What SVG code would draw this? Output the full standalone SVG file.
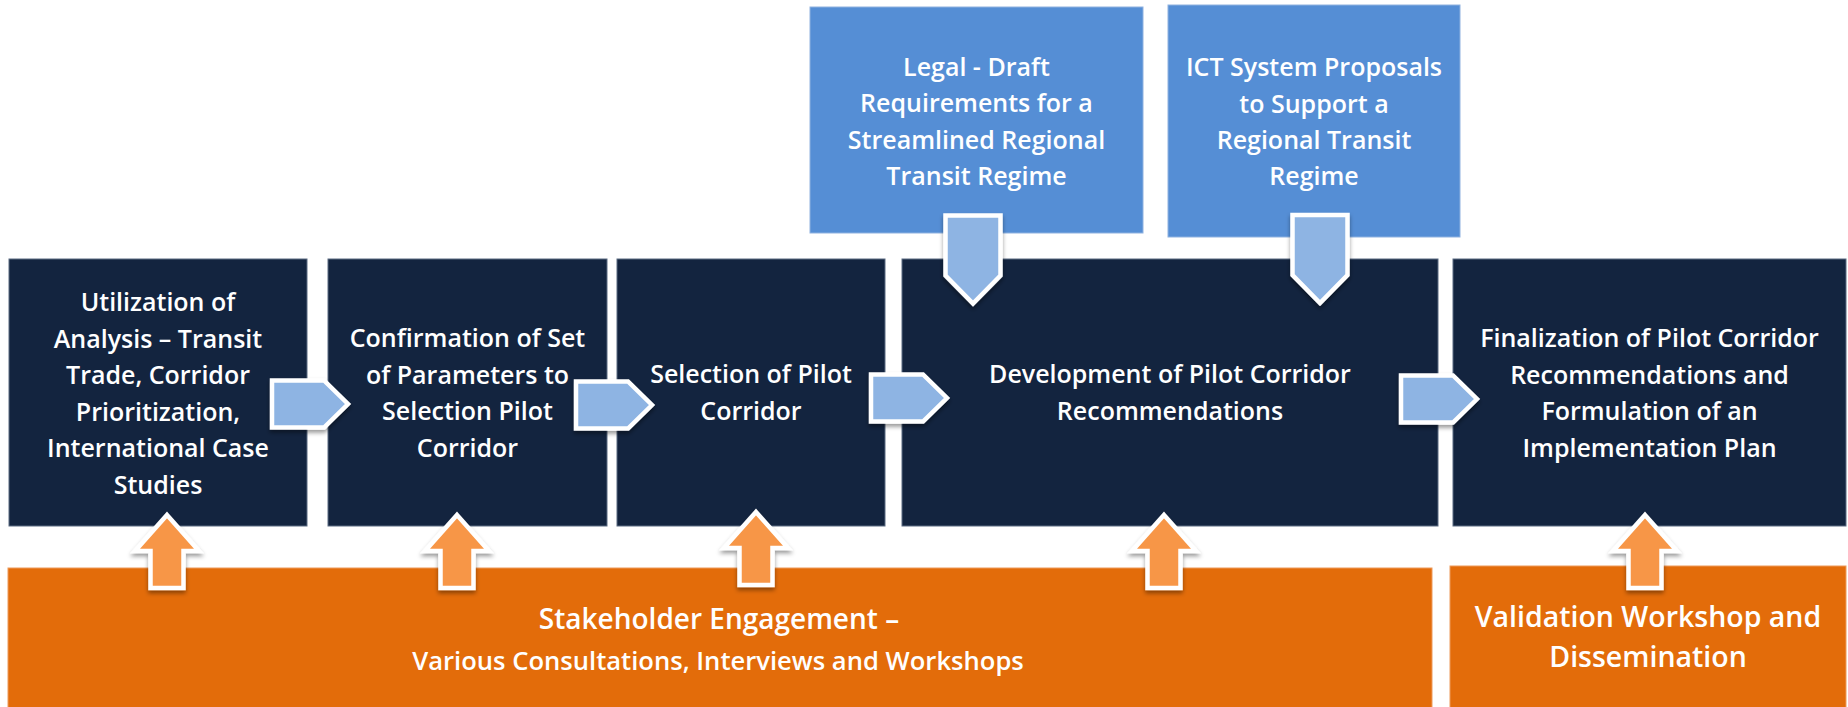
<svg xmlns="http://www.w3.org/2000/svg" width="1848" height="707" viewBox="0 0 1848 707">
<defs>
<style>
.navy{fill:#13243F;stroke:#5B6B82;stroke-width:1}
.blue{fill:#558ED5;stroke:#8FB2E0;stroke-width:1}
.orange{fill:#E36C0A;stroke:#EE9A5A;stroke-width:1}
.t{font-family:"Open Sans","Noto Sans","Liberation Sans",sans-serif;font-weight:600;font-size:25px;fill:#FFFFFF;text-anchor:middle}
.tb{font-family:"Open Sans","Noto Sans","Liberation Sans",sans-serif;font-weight:600;fill:#FFFFFF;text-anchor:middle}
.ba{fill:#8EB4E3;stroke:#FFFFFF;stroke-width:4.5;stroke-linejoin:miter;filter:url(#sh)}
.oa{fill:#F79646;stroke:#FFFFFF;stroke-width:4.5;stroke-linejoin:miter;filter:url(#sh)}
</style>
<filter id="sh" x="-30%" y="-30%" width="160%" height="160%">
<feDropShadow dx="0" dy="3" stdDeviation="2" flood-color="#000000" flood-opacity="0.4"/>
</filter>
<polygon id="ra" points="0,-23.5 52,-23.5 76,0 52,23.5 0,23.5"/>
<polygon id="da" points="-27.5,0 27.5,0 27.5,60 0,88 -27.5,60"/>
<polygon id="ua" points="0,0 32,36 16.5,36 16.5,73 -16.5,73 -16.5,36 -32,36"/>
</defs>
<rect width="1848" height="707" fill="#FFFFFF"/>

<g id="legal">
<rect class="blue" x="810" y="7" width="333" height="226"/>
<text class="t" x="976.5" y="76">Legal - Draft</text>
<text class="t" x="976.5" y="112">Requirements for a</text>
<text class="t" x="976.5" y="149">Streamlined Regional</text>
<text class="t" x="976.5" y="185">Transit Regime</text>
</g>
<g id="ict">
<rect class="blue" x="1168" y="5" width="292" height="232"/>
<text class="t" x="1314" y="76">ICT System Proposals</text>
<text class="t" x="1314" y="113">to Support a</text>
<text class="t" x="1314" y="149">Regional Transit</text>
<text class="t" x="1314" y="185">Regime</text>
</g>

<g id="utilization">
<rect class="navy" x="9" y="259" width="298" height="267"/>
<text class="t" x="158" y="311">Utilization of</text>
<text class="t" x="158" y="348">Analysis – Transit</text>
<text class="t" x="158" y="384">Trade, Corridor</text>
<text class="t" x="158" y="421">Prioritization,</text>
<text class="t" x="158" y="457">International Case</text>
<text class="t" x="158" y="494">Studies</text>
</g>
<g id="confirmation">
<rect class="navy" x="328" y="259" width="279" height="267"/>
<text class="t" x="467.5" y="347">Confirmation of Set</text>
<text class="t" x="467.5" y="384">of Parameters to</text>
<text class="t" x="467.5" y="420">Selection Pilot</text>
<text class="t" x="467.5" y="457">Corridor</text>
</g>
<g id="selection">
<rect class="navy" x="617" y="259" width="268" height="267"/>
<text class="t" x="751" y="383">Selection of Pilot</text>
<text class="t" x="751" y="420">Corridor</text>
</g>
<g id="development">
<rect class="navy" x="902" y="259" width="536" height="267"/>
<text class="t" x="1170" y="383">Development of Pilot Corridor</text>
<text class="t" x="1170" y="420">Recommendations</text>
</g>
<g id="finalization">
<rect class="navy" x="1453" y="259" width="393" height="267"/>
<text class="t" x="1649.5" y="347">Finalization of Pilot Corridor</text>
<text class="t" x="1649.5" y="384">Recommendations and</text>
<text class="t" x="1649.5" y="420">Formulation of an</text>
<text class="t" x="1649.5" y="457">Implementation Plan</text>
</g>

<g id="stakeholder">
<rect class="orange" x="8" y="568" width="1424" height="145"/>
<text class="tb" x="719" y="629" font-size="28">Stakeholder Engagement –</text>
<text class="tb" x="718" y="670" font-size="25.6">Various Consultations, Interviews and Workshops</text>
</g>
<g id="validation">
<rect class="orange" x="1450" y="566" width="396" height="147"/>
<text class="tb" x="1648" y="627" font-size="28.5">Validation Workshop and</text>
<text class="tb" x="1648" y="667" font-size="28.5">Dissemination</text>
</g>

<g id="connectors">
<use href="#ra" class="ba" transform="translate(272,404)"/>
<use href="#ra" class="ba" transform="translate(576,405)"/>
<use href="#ra" class="ba" transform="translate(871,398)"/>
<use href="#ra" class="ba" transform="translate(1401,399)"/>
<use href="#da" class="ba" transform="translate(973,215.5)"/>
<use href="#da" class="ba" transform="translate(1320,215)"/>
<use href="#ua" class="oa" transform="translate(167,515)"/>
<use href="#ua" class="oa" transform="translate(457,515)"/>
<use href="#ua" class="oa" transform="translate(756,512)"/>
<use href="#ua" class="oa" transform="translate(1164,515)"/>
<use href="#ua" class="oa" transform="translate(1645,515)"/>
</g>
</svg>
